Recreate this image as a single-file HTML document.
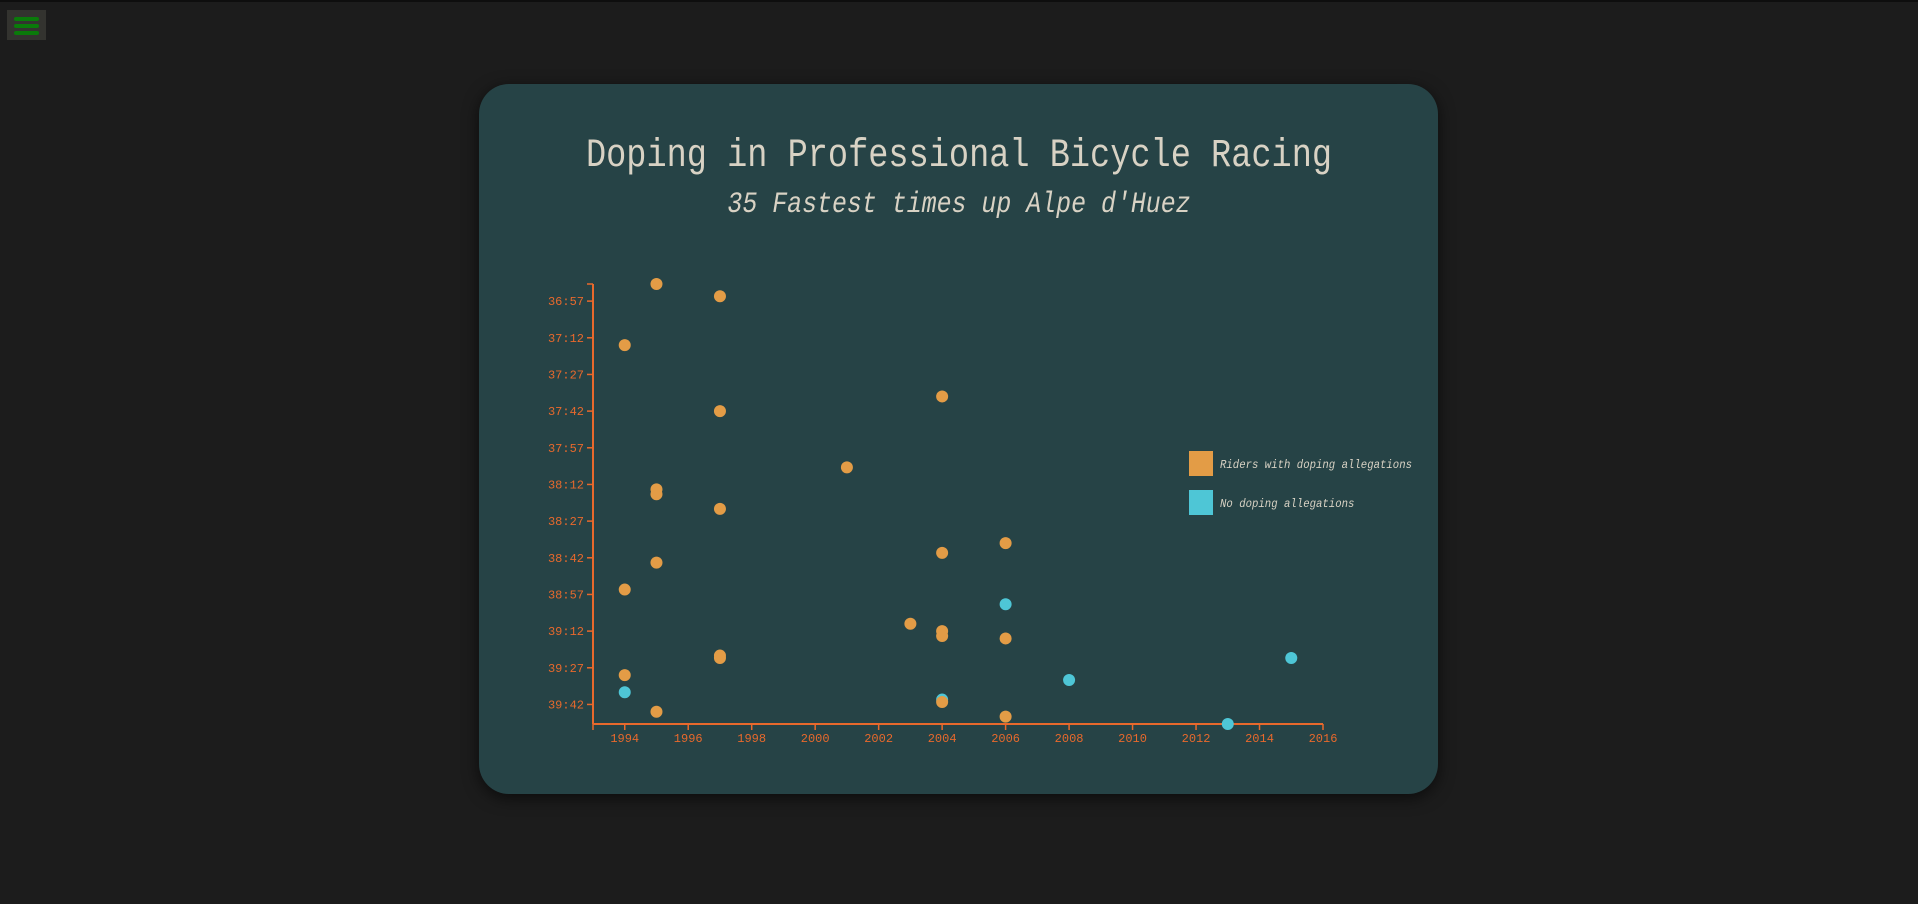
<!DOCTYPE html>
<html><head><meta charset="utf-8"><style>
html,body{margin:0;padding:0;background:#1c1c1c;width:1918px;height:904px;overflow:hidden;font-family:"Liberation Mono",monospace;}
#topline{position:absolute;left:0;top:0;width:1918px;height:2px;background:#0e0e0e;}
#menu{position:absolute;left:7px;top:10px;width:39px;height:30px;background:#33332f;}
#menu span{position:absolute;left:7px;width:25px;height:4px;border-radius:2px;background:#0a7a0a;}
#card{position:absolute;left:479px;top:84px;width:959px;height:710px;background:#264346;border-radius:30px;box-shadow:0 4px 16px rgba(0,0,0,.6);}
#title{position:absolute;left:0;width:1918px;top:134px;text-align:center;color:#d8d2c4;font-size:40px;line-height:46px;transform:scaleX(0.84);transform-origin:959px 0;}
#subtitle{position:absolute;left:0;width:1918px;top:188px;text-align:center;color:#d8d2c4;font-size:30px;font-style:italic;line-height:34px;transform:scaleX(0.83);transform-origin:959px 0;}
svg{position:absolute;left:0;top:0;}
</style></head><body>
<div id="topline"></div>
<div id="menu"><span style="top:7px"></span><span style="top:14px"></span><span style="top:21px"></span></div>
<div id="card"></div>
<div id="title">Doping in Professional Bicycle Racing</div>
<div id="subtitle">35 Fastest times up Alpe d'Huez</div>
<svg id="chart" width="1918" height="904"></svg>
<script>
const years = [1995,1997,1994,2004,1997,2001,1995,1995,1997,2006,2004,1995,1994,2006,2003,2004,2004,2006,1997,1997,2015,1994,2008,1994,2004,2004,1995,2006,2013];
const seconds = [2210,2215,2235,2256,2262,2285,2294,2296,2302,2316,2320,2324,2335,2341,2349,2352,2354,2355,2362,2363,2363,2370,2372,2377,2380,2381,2385,2387,2390];
const doping = [1,1,1,1,1,1,1,1,1,1,1,1,1,0,1,1,1,1,1,1,0,1,0,0,0,1,1,1,0];
const xTicks = [1994,1996,1998,2000,2002,2004,2006,2008,2010,2012,2014,2016];
const yTicks = [2217,2232,2247,2262,2277,2292,2307,2322,2337,2352,2367,2382];
const legendLabels = ["Riders with doping allegations","No doping allegations"];

const NS="http://www.w3.org/2000/svg";
const svg=document.getElementById('chart');
const X0=593,X1=1323,Y0=284,Y1=724;
const xMin=1993,xMax=2016,yMin=2210,yMax=2390;
const xs=v=>X0+(v-xMin)/(xMax-xMin)*(X1-X0);
const ys=v=>Y0+(v-yMin)/(yMax-yMin)*(Y1-Y0);
const AX="#e8692c";
function mk(t,a){const e=document.createElementNS(NS,t);for(const k in a)e.setAttribute(k,a[k]);svg.appendChild(e);return e;}
function fmt(s){const m=Math.floor(s/60),r=s%60;return m+":"+(r<10?"0":"")+r;}
let e;
e=mk('line',{x1:X0,y1:Y0,x2:X0,y2:Y1,stroke:AX,'stroke-width':2});


e=mk('line',{x1:X0,y1:Y1,x2:X1,y2:Y1,stroke:AX,'stroke-width':2});


mk('line',{x1:X0-6,y1:Y0,x2:X0,y2:Y0,stroke:AX,'stroke-width':1.5});
mk('line',{x1:X0,y1:Y1,x2:X0,y2:Y1+6,stroke:AX,'stroke-width':1.5});
yTicks.forEach(t=>{
  const y=ys(t);
  mk('line',{x1:X0-6,y1:y,x2:X0,y2:y,stroke:AX,'stroke-width':1.5});
  const tx=mk('text',{x:X0-9,y:y+4,fill:AX,'font-size':12,'text-anchor':'end','font-family':'Liberation Mono, monospace'});
  tx.textContent=fmt(t);
  
  
});
xTicks.forEach(t=>{
  const x=xs(t);
  mk('line',{x1:x,y1:Y1,x2:x,y2:Y1+6,stroke:AX,'stroke-width':1.5});
  const tx=mk('text',{x:x,y:Y1+18,fill:AX,'font-size':12,'text-anchor':'middle','font-family':'Liberation Mono, monospace'});
  tx.textContent=t;
  
  
});
years.forEach((yr,i)=>{
  const c=mk('circle',{cx:xs(yr),cy:ys(seconds[i]),r:6,fill:doping[i]?'#e39c46':'#4ec6d6'});
  
  
});
const legY=[451,490], legC=['#e39c46','#4ec6d6'];
legendLabels.forEach((l,i)=>{
  const r=mk('rect',{x:1189,y:legY[i],width:24,height:25,fill:legC[i]});
  
  
  const t=mk('text',{x:1220,y:legY[i]+17,fill:'#d8d2c4','font-size':11.5,'font-style':'italic','font-family':'Liberation Mono, monospace',textLength:l.length*6.4,lengthAdjust:'spacingAndGlyphs'});
  t.textContent=l;
  
  
});
</script>
</body></html>
